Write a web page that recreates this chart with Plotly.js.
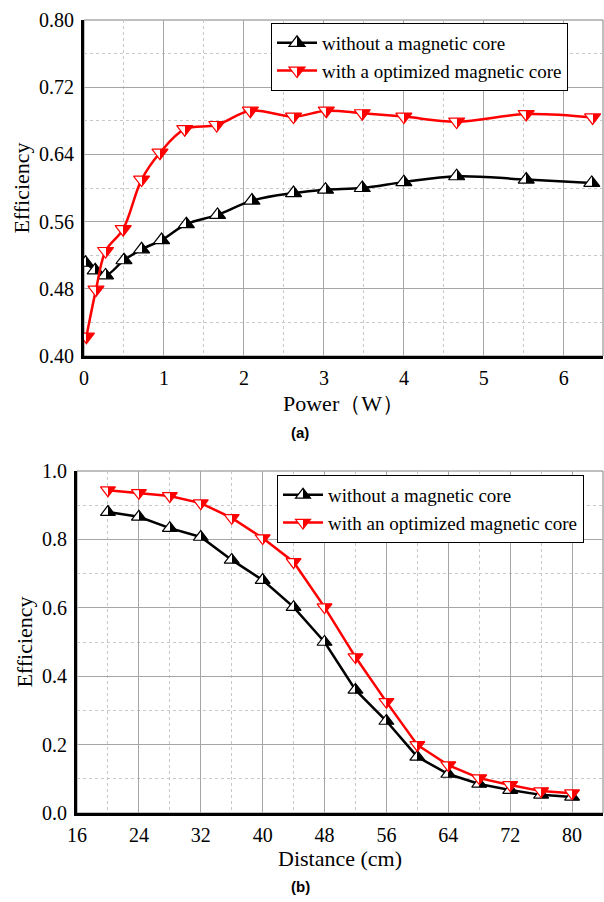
<!DOCTYPE html>
<html><head><meta charset="utf-8">
<script src="https://cdn.plot.ly/plotly-3.0.1.min.js"></script>
<style>body{margin:0;background:#fff}.p{width:604px;height:451px}
.p .xtick text,.p .ytick text{font-family:"Liberation Serif","Times New Roman",serif !important;font-size:20px !important;}
.p .legendtext{font-family:"Liberation Serif","Times New Roman",serif !important;font-size:19px !important;}
</style>
</head><body><div id="top" class="p"></div><div id="bot" class="p"></div>
<script>
// (a) efficiency vs power
const powerWithout = [0.02,0.14,0.27,0.50,0.72,0.97,1.28,1.67,2.10,2.62,3.02,3.48,4.00,4.66,5.53,6.35];
const effWithout   = [0.511,0.502,0.496,0.514,0.527,0.538,0.557,0.568,0.585,0.594,0.598,0.600,0.607,0.614,0.610,0.606];
const powerWith    = [0.03,0.15,0.27,0.49,0.72,0.95,1.26,1.66,2.08,2.62,3.03,3.48,4.00,4.66,5.53,6.36];
const effWith      = [0.423,0.479,0.525,0.551,0.610,0.642,0.670,0.675,0.692,0.685,0.692,0.689,0.685,0.679,0.688,0.684];
// (b) efficiency vs distance
const distance        = [20,24,28,32,36,40,44,48,52,56,60,64,68,72,76,80];
const effDistWithout  = [0.880,0.866,0.833,0.807,0.740,0.681,0.602,0.500,0.360,0.269,0.164,0.114,0.085,0.067,0.053,0.047];
const effDistWith     = [0.944,0.936,0.927,0.906,0.863,0.804,0.734,0.602,0.456,0.325,0.199,0.140,0.102,0.082,0.064,0.058];
const nameWithout = 'without a magnetic core';
const nameWithA   = 'with a optimized magnetic core';
const nameWithB   = 'with an optimized magnetic core';
const xTitleA = 'Power（W）';
const xTitleB = 'Distance (cm)';
const yTitle = 'Efficiency';

const BLACK='rgb(0,0,0)', RED='rgb(255,0,0)';
const serif = '"Liberation Serif", "Times New Roman", Times, serif';
const sans = '"Liberation Sans", Arial, sans-serif';

function tr(x,y,name,color,sym,shape,size){
  return {x:x,y:y,name:name,type:'scatter',mode:'lines+markers',
    line:{color:color,width:2.5,shape:shape,smoothing:1},
    marker:{symbol:sym,size:size,color:color,line:{color:color,width:1.2}}};
}
function ax(o){
  return Object.assign({showgrid:true,gridcolor:'#a6a6a6',gridwidth:1,zeroline:false,
    showline:true,linecolor:'black',linewidth:3,ticks:'',
    tickfont:{family:serif,size:20,color:'black'},fixedrange:true},o);
}
function mn(d){return {dtick:d,showgrid:true,gridcolor:'#c8c8c8',griddash:'3px,3px',gridwidth:1,ticks:''};}
function frame(){return [{type:'rect',xref:'x domain',yref:'y domain',x0:0,x1:1,y0:0,y1:1,line:{color:'#808080',width:1},layer:'below'}];}

const H=451;
const layoutA = {
  width:604,height:H,margin:{l:84,r:1,t:20,b:H-356},
  font:{family:serif,size:20,color:'black'},showlegend:true,
  xaxis: ax({range:[0,6.49],tick0:0,dtick:1,minor:mn(0.5),ticklabelstandoff:2,
    title:{text:xTitleA,font:{family:serif,size:22,color:'black'},standoff:8}}),
  yaxis: ax({range:[0.40,0.80],tick0:0.40,dtick:0.08,tickformat:'.2f',minor:mn(0.04),ticklabelstandoff:3,
    title:{text:yTitle,font:{family:serif,size:22,color:'black'},standoff:4}}),
  legend:{x:(271-84)/519,y:1-(23-20)/336,xanchor:'left',yanchor:'top',bgcolor:'white',bordercolor:'black',borderwidth:1,
    font:{family:serif,size:19,color:'black'},tracegroupgap:0,itemwidth:40},
  shapes:frame(),
  annotations:[{text:'<b>(a)</b>',xref:'paper',yref:'paper',x:(300-84)/519,y:-(432-356)/336,xanchor:'center',yanchor:'middle',showarrow:false,
    font:{family:sans,size:15,color:'black'}}]
};
const HB=451, top0=451;
const layoutB = {
  width:604,height:HB,margin:{l:77,r:1,t:471-top0,b:HB-(813-top0)},
  font:{family:serif,size:20,color:'black'},showlegend:true,
  xaxis: ax({range:[16,84],tick0:16,dtick:8,minor:mn(4),ticklabelstandoff:2,
    title:{text:xTitleB,font:{family:serif,size:22,color:'black'},standoff:6}}),
  yaxis: ax({range:[0,1],tick0:0,dtick:0.2,tickformat:'.1f',minor:mn(0.1),ticklabelstandoff:3,
    title:{text:yTitle,font:{family:serif,size:22,color:'black'},standoff:4}}),
  legend:{x:(277-77)/526,y:1-(475-471)/342,xanchor:'left',yanchor:'top',bgcolor:'white',bordercolor:'black',borderwidth:1,
    font:{family:serif,size:19,color:'black'},tracegroupgap:0,itemwidth:40},
  shapes:frame(),
  annotations:[{text:'<b>(b)</b>',xref:'paper',yref:'paper',x:(300-77)/526,y:-(886-813)/342,xanchor:'center',yanchor:'middle',showarrow:false,
    font:{family:sans,size:15,color:'black'}}]
};
const dataA=[tr(powerWithout,effWithout,nameWithout,BLACK,'triangle-up','spline',14),
             tr(powerWith,effWith,nameWithA,RED,'triangle-down','spline',14)];
const dataB=[tr(distance,effDistWithout,nameWithout,BLACK,'triangle-up','linear',13),
             tr(distance,effDistWith,nameWithB,RED,'triangle-down','linear',13)];

const NS='http://www.w3.org/2000/svg';
function halfFill(gd){
  const svg = gd.querySelector('svg.main-svg');
  if(!svg) return;
  let defs = svg.querySelector('defs');
  if(!defs){defs=document.createElementNS(NS,'defs');svg.insertBefore(defs,svg.firstChild);}
  const pre=gd.id;
  [['halfBlack','rgb(0,0,0)'],['halfRed','rgb(255,0,0)']].forEach(function(p){
    if(document.getElementById(pre+p[0])) return;
    const g=document.createElementNS(NS,'linearGradient');
    g.setAttribute('id',pre+p[0]);g.setAttribute('x1','0');g.setAttribute('y1','0');g.setAttribute('x2','1');g.setAttribute('y2','0');
    [[0,'white'],[0.5,'white'],[0.5,p[1]],[1,p[1]]].forEach(function(s){
      const st=document.createElementNS(NS,'stop');st.setAttribute('offset',s[0]);st.setAttribute('stop-color',s[1]);g.appendChild(st);
    });
    defs.appendChild(g);
  });
  gd.querySelectorAll('path.point, path.scatterpts').forEach(function(pt){
    const f=(pt.style.fill||'').replace(/\s/g,'');
    if(f==='rgb(0,0,0)') pt.style.fill='url(#'+pre+'halfBlack)';
    else if(f==='rgb(255,0,0)') pt.style.fill='url(#'+pre+'halfRed)';
  });
}
const cfg={displayModeBar:false,staticPlot:true};
const gA=document.getElementById('top'), gB=document.getElementById('bot');
Plotly.newPlot(gA,dataA,layoutA,cfg).then(function(){halfFill(gA);});
Plotly.newPlot(gB,dataB,layoutB,cfg).then(function(){halfFill(gB);});
</script></body></html>
